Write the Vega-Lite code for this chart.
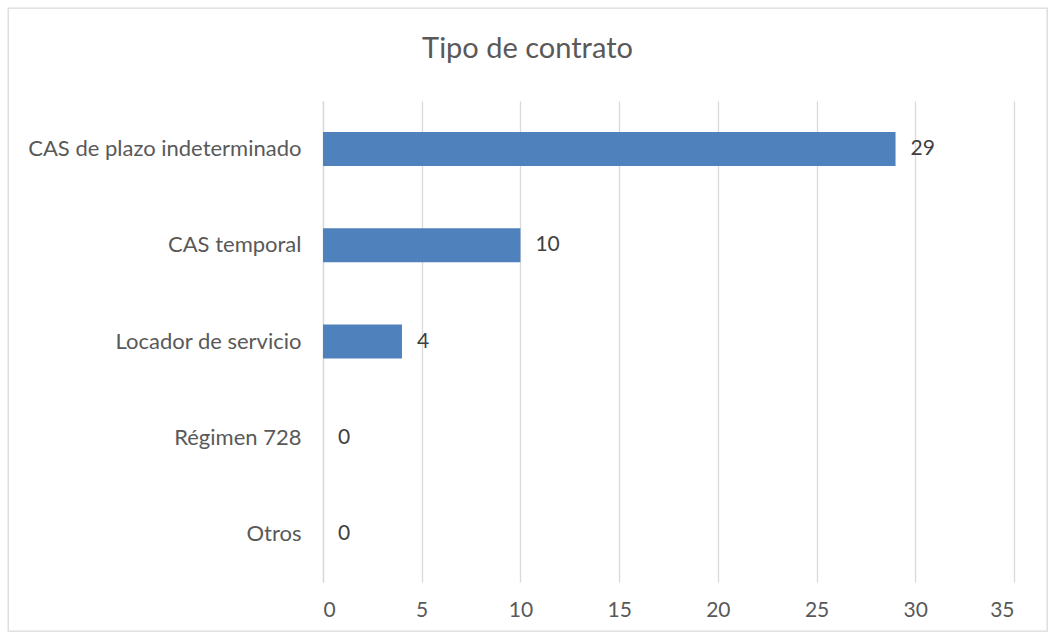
{
  "$schema": "https://vega.github.io/schema/vega-lite/v6.json",
  "width": 1039,
  "height": 623,
  "autosize": "none",
  "padding": {"left": 8, "top": 8, "right": 8, "bottom": 8},
  "background": "white",
  "config": {
    "view": {"stroke": "#D9D9D9", "strokeWidth": 1.3},
    "font": "Lato"
  },
  "title": {
    "text": "Tipo de contrato",
    "fontSize": 29,
    "font": "Lato",
    "fontWeight": "normal",
    "color": "#595959",
    "anchor": "middle",
    "baseline": "middle",
    "offset": -70
  },
  "data": {
    "values": [
      {"tipo": "CAS de plazo indeterminado", "n": 29},
      {"tipo": "CAS temporal", "n": 10},
      {"tipo": "Locador de servicio", "n": 4},
      {"tipo": "Régimen 728", "n": 0},
      {"tipo": "Otros", "n": 0}
    ]
  },
  "resolve": {"axis": {"x": "independent"}},
  "encoding": {
    "y": {
      "field": "tipo",
      "type": "nominal",
      "sort": null,
      "scale": {"range": [93, 574], "paddingInner": 0.647, "paddingOuter": 0.3235},
      "axis": {
        "title": null,
        "offset": -315,
        "ticks": false,
        "domainColor": "#D9D9D9",
        "domainWidth": 1.3,
        "labelFontSize": 22,
        "labelColor": "#595959",
        "labelPadding": 22,
        "labelFont": "Lato",
        "labelLimit": 0,
        "grid": false
      }
    }
  },
  "layer": [
    {
      "mark": {"type": "bar", "color": "#4F81BD"},
      "encoding": {
        "x": {
          "field": "n",
          "type": "quantitative",
          "scale": {"domain": [0, 35], "range": [315, 1006]},
          "axis": {
            "title": null,
            "orient": "top",
            "values": [0, 5, 10, 15, 20, 25, 30, 35],
            "domain": false,
            "ticks": false,
            "labels": false,
            "grid": true,
            "gridColor": "#D9D9D9",
            "gridWidth": 1.3
          }
        }
      }
    },
    {
      "mark": {"type": "text", "align": "left", "baseline": "middle", "dx": 15, "fontSize": 21, "color": "#404040", "font": "Lato"},
      "encoding": {
        "x": {
          "field": "n",
          "type": "quantitative",
          "scale": {"domain": [0, 35], "range": [315, 1006]},
          "axis": {
            "title": null,
            "orient": "bottom",
            "offset": -49,
            "values": [0, 5, 10, 15, 20, 25, 30, 35],
            "domain": false,
            "ticks": false,
            "grid": false,
            "labelFontSize": 21,
            "labelColor": "#595959",
            "labelPadding": 17,
            "labelFont": "Lato"
          }
        },
        "text": {"field": "n", "type": "quantitative"}
      }
    }
  ]
}
